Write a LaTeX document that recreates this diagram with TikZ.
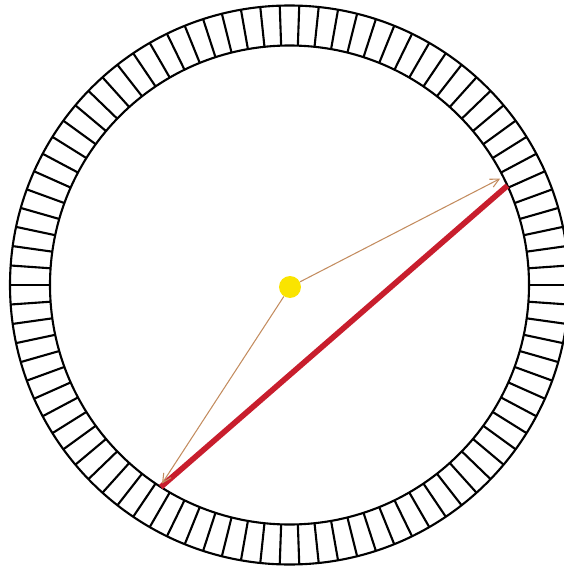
\documentclass[tikz,border=0pt]{standalone}
\usepackage{xcolor}
\usepackage{tikz}
\usetikzlibrary{arrows.meta}
\definecolor{myred}{RGB}{200,30,45}
\definecolor{myorange}{RGB}{195,140,95}
\definecolor{myyellow}{RGB}{250,228,0}

\begin{document}
\begin{tikzpicture}[x=0.02cm,y=0.02cm,
  ring/.style={black,line width=1.2pt},
  arr/.style={-{Straight Barb[length=5pt,width=5pt]},myorange,line width=0.6pt},
  chord/.style={myred,line width=3.2pt},
  dot/.style={circle,fill=myyellow,inner sep=0pt,minimum size=0.44cm}]
  \useasboundingbox (-289.5,-284) rectangle (274.5,285);
  \clip (-289.5,-284) rectangle (274.5,285);
  % detector ring
  \draw[ring] (0,0) circle (279.5);
  \draw[ring] (0,0) circle (239.5);
  \foreach \a in {0,4,...,356}
    \draw[ring] (\a:239.5) -- (\a:279.5);
  % source and line of response
  \node[dot](src) at (0.5,-2) {};
  \coordinate (c1) at (24.5:239.5);
  \coordinate (c2) at (237.5:239.5);
  \coordinate (t1) at (26.8:236);
  \coordinate (t2) at (237.3:236);
  \draw[chord](c1)--(c2);
  \draw[arr](src)--(t1); \draw[arr](src)--(t2);
\end{tikzpicture}
\end{document}
